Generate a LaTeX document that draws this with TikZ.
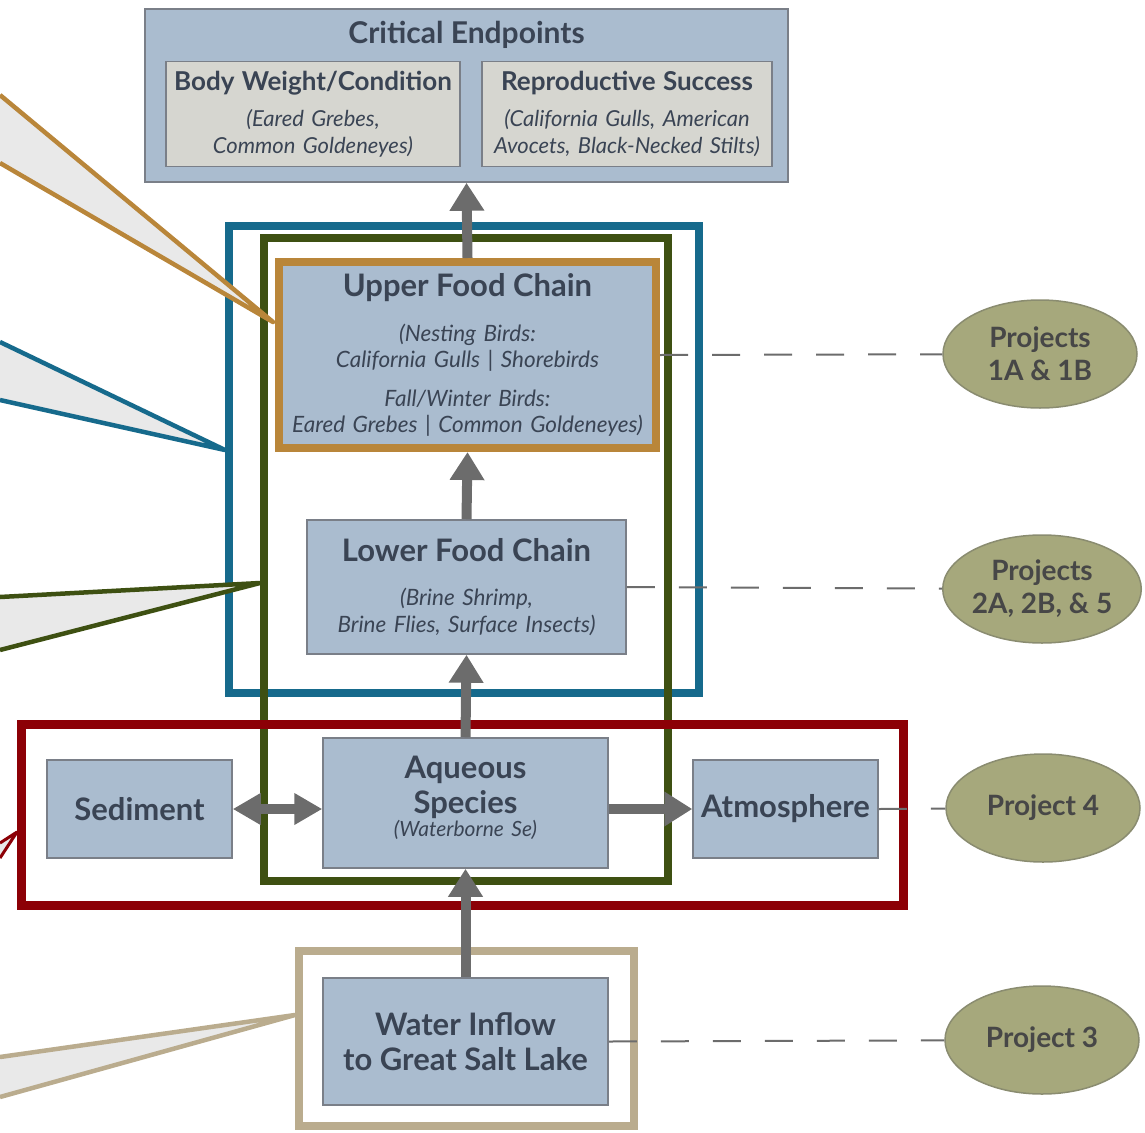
\documentclass[tikz,border=0pt]{standalone}
\usepackage{fontspec}
\setmainfont{Lato}
\usetikzlibrary{arrows.meta,shapes.geometric}
\definecolor{boxfill}{RGB}{170,188,207}
\definecolor{boxline}{RGB}{122,127,136}
\definecolor{palefill}{RGB}{214,214,208}
\definecolor{inkblue}{RGB}{58,68,84}
\definecolor{tealframe}{RGB}{22,106,140}
\definecolor{oliveframe}{RGB}{62,80,18}
\definecolor{ochreframe}{RGB}{185,134,58}
\definecolor{redframe}{RGB}{140,0,6}
\definecolor{tanframe}{RGB}{186,172,142}
\definecolor{projfill}{RGB}{166,168,124}
\definecolor{projline}{RGB}{138,140,112}
\definecolor{arrowgray}{RGB}{108,108,108}
\definecolor{fangray}{RGB}{233,233,233}
\newcommand{\boxtitle}[1]{{\upshape\bfseries\fontsize{31}{26}\selectfont #1}}
\tikzset{
  blk/.style={rectangle,draw=boxline,fill=boxfill,line width=1.5pt,inner sep=0pt,
    align=center,text=inkblue,font=\fontsize{22.5}{26}\selectfont\itshape},
  endpt/.style={rectangle,draw=boxline,fill=palefill,line width=1.5pt,inner sep=0pt,
    minimum width=#1,text width=#1-6pt,minimum height=105pt,align=center,text=inkblue,
    font=\fontsize{22}{27}\selectfont\itshape},
  zone/.style={draw=#1,line width=8pt},
  fan/.style={fill=fangray,draw=#1,line width=4.5pt,line join=round},
  arr/.style={-{Triangle[length=28pt,width=33pt]},line width=10pt,draw=arrowgray},
  link/.style={draw=arrowgray,line width=2pt,dash pattern=on 28pt off 24pt},
  oval/.style={ellipse,draw=projline,fill=projfill,line width=1.5pt,minimum width=194pt,
    minimum height=108pt,inner sep=0pt,align=center,text=black!72,
    font=\fontsize{28}{33}\selectfont\bfseries}
}

\begin{document}
\begin{tikzpicture}[x=1pt,y=-1pt]
    \useasboundingbox (0,0) rectangle (1145,1132);

    % Project frames
    \draw[zone=tealframe] (229,226) rectangle (699,693);
    \draw[zone=oliveframe] (264,238) rectangle (668,881);
    \draw[zone=redframe,line width=9pt] (21.5,724.5) rectangle (903.5,905.5);
    \draw[zone=tanframe] (299,951) rectangle (634,1126);

    % Critical endpoints
    \node[blk,minimum width=643pt,minimum height=173pt] (crit) at (466.5,95.5) {};
    \node[text=inkblue,font=\fontsize{30}{30}\selectfont\bfseries] (crittitle) at (466.5,35) {Critical Endpoints};
    \node[endpt=294pt] (body) at (313,114) {{\upshape\bfseries\fontsize{26}{27}\selectfont Body Weight/Condition}\\[9pt](Eared Grebes,\\Common Goldeneyes)};
    \node[endpt=290pt] (repro) at (627,114) {{\upshape\bfseries\fontsize{26}{27}\selectfont Reproductive Success}\\[9pt](California Gulls, American\\Avocets, Black-Necked Stilts)};

    % Food chain
    \node[blk,draw=ochreframe,line width=8pt,minimum width=377pt,text width=369pt,minimum height=186pt] (upper) at (467.5,355)
      {\boxtitle{Upper Food Chain}\\[19pt](Nesting Birds:\\California Gulls | Shorebirds\\[13pt]Fall/Winter Birds:\\Eared Grebes | Common Goldeneyes)};
    \node[blk,minimum width=319pt,text width=313pt,minimum height=134pt] (lower) at (466.5,587)
      {\boxtitle{Lower Food Chain}\\[18pt](Brine Shrimp,\\[1pt]Brine Flies, Surface Insects)};

    % Water column
    \node[blk,minimum width=285pt,text width=279pt,minimum height=130pt,text depth=71pt] (aqueous) at (465.5,803)
      {\boxtitle{Aqueous}\\[6pt]\boxtitle{Species}\\[-3pt]{\fontsize{21}{26}\selectfont(Waterborne Se)}};
    \node[blk,minimum width=185pt,text width=183pt,minimum height=98pt] (sediment) at (139.5,809) {\boxtitle{Sediment}};
    \node[blk,minimum width=185pt,text width=183pt,minimum height=98pt] (atmos) at (785.5,809) {\boxtitle{Atmosphere}};
    \node[blk,minimum width=285pt,text width=279pt,minimum height=127pt] (water) at (465.5,1041.5)
      {\boxtitle{Water Inflow}\\[9pt]\boxtitle{to Great Salt Lake}};

    % Callouts
    \coordinate (ochreA) at (0,95);
    \coordinate (ochreB) at (0,163);
    \coordinate (ochreTip) at (273,322);
    \coordinate (tealA) at (0,342);
    \coordinate (tealB) at (0,400);
    \coordinate (tealTip) at (225,450);
    \coordinate (oliveA) at (0,597);
    \coordinate (oliveB) at (0,650);
    \coordinate (oliveTip) at (260,583);
    \coordinate (redA) at (0,843);
    \coordinate (redB) at (0,858);
    \coordinate (redTip) at (17,832);
    \coordinate (tanA) at (0,1057);
    \coordinate (tanB) at (0,1097);
    \coordinate (tanTip) at (295,1015);
    \filldraw[fan=ochreframe] (ochreA) -- (ochreTip) -- (ochreB);
    \filldraw[fan=tealframe] (tealA) -- (tealTip) -- (tealB);
    \filldraw[fan=oliveframe] (oliveA) -- (oliveTip) -- (oliveB);
    \filldraw[fan=redframe,line width=3pt] (redA) -- (redTip) -- (redB);
    \filldraw[fan=tanframe] (tanA) -- (tanTip) -- (tanB);

    % Arrows
    \draw[arr] (upper.north) -- (crit.south);
    \draw[arr] (lower.north) -- (upper.south);
    \draw[arr] (aqueous.north) -- (lower.south);
    \draw[arr] (water.north) -- (aqueous.south);
    \draw[arr,{Triangle[length=28pt,width=30pt]}-{Triangle[length=28pt,width=30pt]}] (sediment.east) -- (sediment.east -| aqueous.west);
    \draw[arr] (aqueous.east |- atmos.west) -- (atmos.west);

    % Projects
    \node[oval] (p1ab) at (1040,354) {Projects\\1A \& 1B};
    \node[oval] (p2ab) at (1042,589) {Projects\\2A, 2B, \& 5};
    \node[oval] (p4) at (1043,808) {Project 4};
    \node[oval] (p3) at (1042,1040) {Project 3};
    \draw[link] (upper.east) -- (p1ab);
    \draw[link] (lower.east) -- (p2ab);
    \draw[link] (atmos.east) -- (p4);
    \draw[link] (water.east) -- (p3);
\end{tikzpicture}
\end{document}
